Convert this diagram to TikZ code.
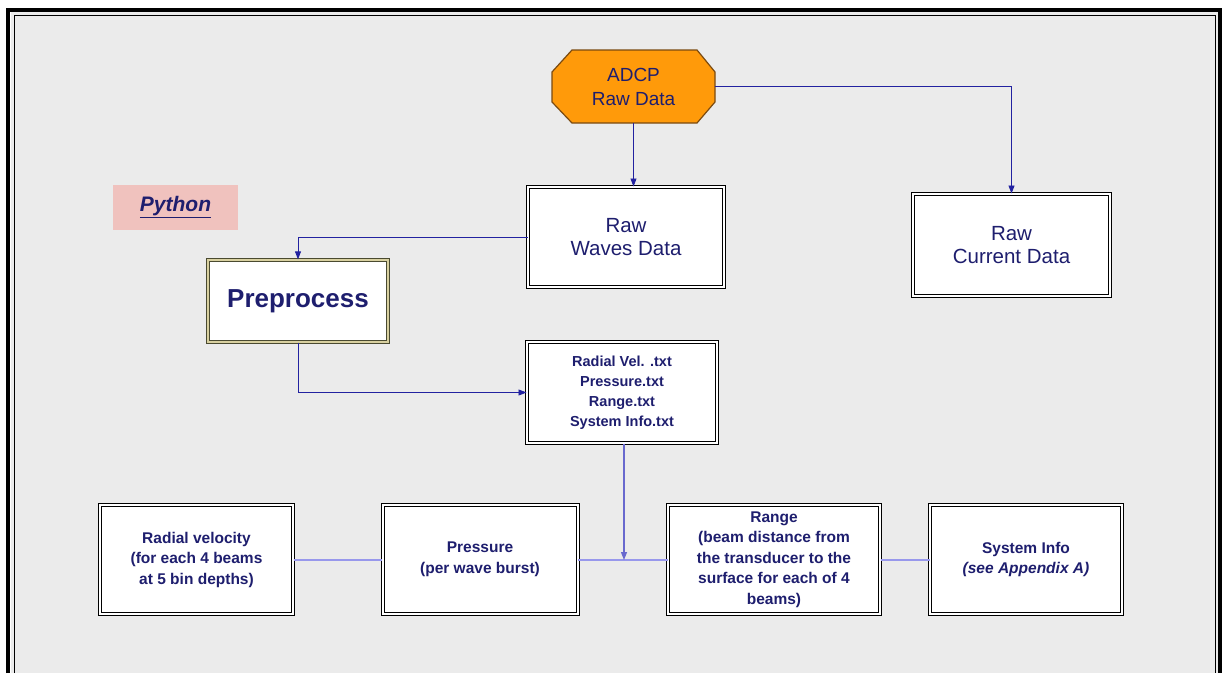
\documentclass[tikz,border=0pt]{standalone}
\usepackage{fontspec}
\setmainfont{Liberation Sans}
\usetikzlibrary{arrows.meta,calc}
\definecolor{bgc}{HTML}{EBEBEB}
\definecolor{navy}{HTML}{1E1E6E}
\definecolor{arrowc}{HTML}{2222A0}
\definecolor{lav}{HTML}{9898EC}
\definecolor{adcpfill}{HTML}{FF9A0A}
\definecolor{adcpline}{HTML}{7A4A10}
\definecolor{pinkc}{HTML}{F0C2BE}
\definecolor{olive}{HTML}{4A4A30}
\definecolor{khaki}{HTML}{D8D0A0}
\tikzset{
  dbox/.style={draw=black, line width=1pt, double=white, double distance=2pt, fill=white,
    text=navy, align=center, inner sep=2pt},
  conn/.style={draw=arrowc, line width=0.9pt, -{Triangle[length=8pt,width=6pt]}},
  lavline/.style={draw=lav, line width=2pt},
  fbig/.style={font=\fontsize{20.5}{23}\selectfont},
  fsmall/.style={font=\fontsize{14.5}{20}\selectfont\bfseries},
  fbot/.style={font=\fontsize{15.5}{20.5}\selectfont\bfseries},
}
\begin{document}
\begin{tikzpicture}[x=1pt,y=-1pt]
\useasboundingbox (0,0) rectangle (1225,673);
\fill[white] (0,0) rectangle (1225,673);
\fill[bgc] (11,10) rectangle (1218,673);
\draw[line width=4pt] (8,673) -- (8,10) -- (1220,10) -- (1220,673);
\draw[line width=0.8pt] (14,673) -- (14,15) -- (1215,15) -- (1215,673);

% ADCP octagon
\filldraw[fill=adcpfill, draw=adcpline, line width=1.2pt]
  (572,50) -- (697,50) -- (715,72) -- (715,102) -- (697,123) -- (572,123) -- (552,102) -- (552,72) -- cycle;
\node[text=navy, align=center, font=\fontsize{19}{24}\selectfont, minimum width=163pt, minimum height=73pt] (adcp) at (633.5,86.5) {ADCP\\Raw Data};

\node[dbox, fbig, minimum width=196pt, minimum height=100pt] (waves) at (626,237) {Raw\\Waves Data};
\node[dbox, fbig, minimum width=197pt, minimum height=102pt] (current) at (1011.5,245) {Raw\\Current Data};

% Python label
\node[fill=pinkc, minimum width=125pt, minimum height=45pt, text=navy,
  font=\fontsize{21}{24}\selectfont\bfseries\itshape] (py) at (175.5,207.5) {\underline{Python}};

\node[draw=olive, line width=1.3pt, double=khaki, double distance=2pt, fill=white,
  minimum width=180pt, minimum height=82pt, text=navy, font=\fontsize{26}{30}\selectfont\bfseries] (pre) at (298,301) {Preprocess};

\node[dbox, fsmall, minimum width=190pt, minimum height=101pt] (radtxt) at (622,392.5) {Radial Vel. .txt\\Pressure.txt\\Range.txt\\System Info.txt};

% bottom row
\node[dbox, fbot, minimum width=193pt, minimum height=109pt] (rv) at (196.5,559.5) {Radial velocity\\(for each 4 beams\\at 5 bin depths)};
\node[dbox, fbot, minimum width=195pt, minimum height=109pt] (pr) at (480,559.5) {Pressure\\(per wave burst)};
\node[dbox, fbot, minimum width=212pt, minimum height=109pt] (rg) at (774,559.5) {Range\\(beam distance from\\the transducer to the\\surface for each of 4\\beams)};
\node[dbox, fbot, minimum width=192pt, minimum height=109pt] (si) at (1026,559.5) {System Info\\\textit{(see Appendix A)}};

% connectors
\draw[conn] (adcp.south) -- (adcp.south |- waves.north);
\draw[conn] (adcp.east) -| (current.north);
\draw[conn] (waves.west) -| (pre.north);
\draw[conn] (pre.south) |- (radtxt.west);

\draw[lavline] (rv.east) -- (pr.west);
\draw[lavline] (pr.east) -- (rg.west);
\draw[lavline] (rg.east) -- (si.west);
\coordinate (jn) at (624,560);
\draw[draw=lav!60!arrowc, line width=1.3pt, -{Triangle[length=8pt,width=6pt]}] (radtxt.south -| jn) -- (jn);
\end{tikzpicture}
\end{document}
